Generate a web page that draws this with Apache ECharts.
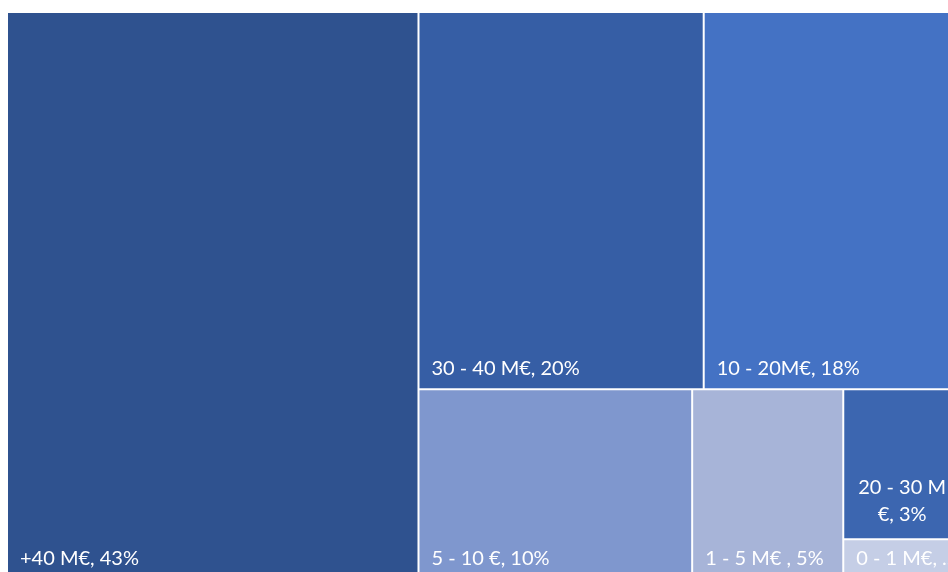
<!DOCTYPE html>
<html>
<head>
<meta charset="utf-8">
<script src="https://cdn.jsdelivr.net/npm/echarts@6/dist/echarts.min.js"></script>
<style>
html,body{margin:0;padding:0;background:#fff;}
#chart{width:948px;height:572px;}
</style>
</head>
<body>
<div id="chart"></div>
<script>
// Categories (band labels) and their shares (%)
const categories = ['+40 M€, 43%', '30 - 40 M€, 20%', '10 - 20M€, 18%', '5 - 10 €, 10%', '1 - 5 M€ , 5%', '20 - 30 M€, 3%', '0 - 1 M€, 1%'];
const displayLabels = ['+40 M€, 43%', '30 - 40 M€, 20%', '10 - 20M€, 18%', '5 - 10 €, 10%', '1 - 5 M€ , 5%', '20 - 30 M\n€, 3%', '0 - 1 M€, 1%'];
const shares = [43, 19.8, 18.0, 9.6, 5.3, 3.3, 0.9];
const palette = ['#2F528F', '#365EA5', '#4472C4', '#7F97CE', '#A7B4D8', '#3C66B0', '#C5CEE6'];

const data = categories.map((name, i) => {
  const item = {
    name: name,
    value: shares[i],
    itemStyle: { color: palette[i] },
    label: { formatter: displayLabels[i] }
  };
  if (displayLabels[i].indexOf('\n') >= 0) {
    item.label.position = 'insideBottom';
    item.label.lineHeight = 27;
    item.label.distance = 5;
    item.label.offset = [-1, 0];
    item.label.overflow = 'none';
  }
  return item;
});

const chart = echarts.init(document.getElementById('chart'), null, { renderer: 'canvas' });
chart.setOption({
  animation: false,
  backgroundColor: '#ffffff',
  series: [{
    type: 'treemap',
    left: 8, top: 13, width: 954, height: 566,
    roam: false,
    nodeClick: false,
    breadcrumb: { show: false },
    squareRatio: 1,
    sort: 'desc',
    visibleMin: 0,
    label: {
      show: true,
      position: 'insideBottomLeft',
      distance: 7,
      offset: [0, 2],
      color: '#ffffff',
      fontFamily: 'Lato',
      fontSize: 20,
      overflow: 'truncate',
      ellipsis: '...'
    },
    upperLabel: { show: false },
    itemStyle: { borderWidth: 0, gapWidth: 2, borderColor: '#ffffff' },
    levels: [
      { itemStyle: { borderWidth: 0, gapWidth: 2, borderColor: '#ffffff' } },
      { itemStyle: { borderWidth: 0, gapWidth: 0 } }
    ],
    data: data
  }]
});
</script>
</body>
</html>
